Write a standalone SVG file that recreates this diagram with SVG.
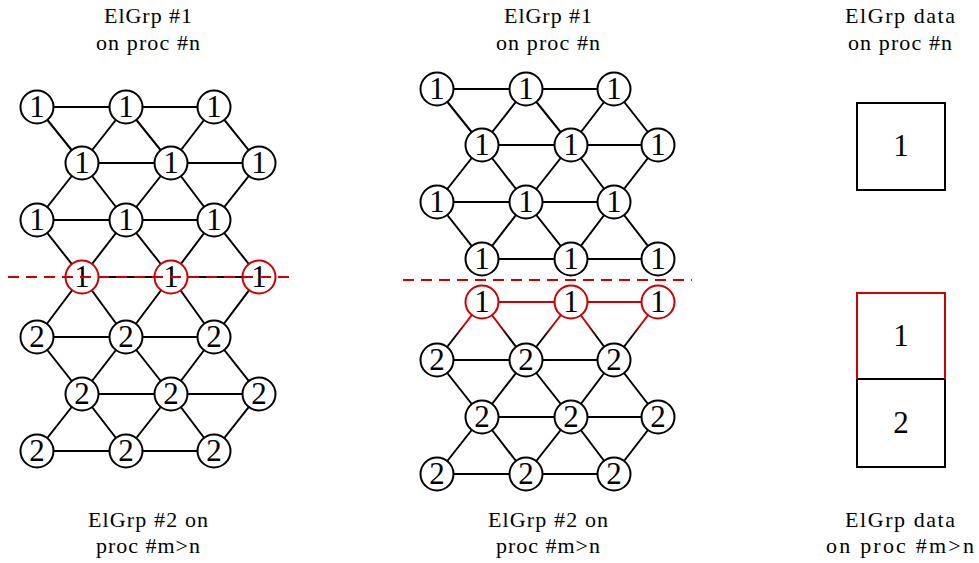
<svg xmlns="http://www.w3.org/2000/svg" width="979" height="563" viewBox="0 0 979 563">
<defs>
<linearGradient id="rb" x1="0" y1="0" x2="0" y2="1">
<stop offset="0.38" stop-color="#cc0000"/>
<stop offset="0.62" stop-color="#000"/>
</linearGradient>
<style>
.e{stroke:#000;stroke-width:2;fill:none}
.er{stroke:#cc0000;stroke-width:2;fill:none}
.eg{stroke:url(#rb);stroke-width:2;fill:none}
.n circle{fill:#fff;stroke:#000;stroke-width:2}
.r circle{fill:#fff;stroke:#cc0000;stroke-width:2}
.n text,.r text,.b text{font-family:"Liberation Serif",serif;font-size:31px;text-anchor:middle;fill:#000}
.b rect{fill:#fff;stroke:#000;stroke-width:2}
.lbl{font-family:"Liberation Serif",serif;font-size:22px;text-anchor:middle;fill:#000}
.dash{stroke:#cc0000;stroke-width:2;stroke-dasharray:11 7;fill:none}
</style>
</defs>
<rect width="979" height="563" fill="#fff"/>

<!-- labels -->
<g id="labels">
<text class="lbl" x="148" y="23" textLength="88" lengthAdjust="spacing">ElGrp #1</text>
<text class="lbl" x="148" y="50" textLength="104" lengthAdjust="spacing">on proc #n</text>
<text class="lbl" x="548" y="23" textLength="88" lengthAdjust="spacing">ElGrp #1</text>
<text class="lbl" x="548" y="50" textLength="104" lengthAdjust="spacing">on proc #n</text>
<text class="lbl" x="900" y="23" textLength="110" lengthAdjust="spacing">ElGrp data</text>
<text class="lbl" x="900" y="50" textLength="104" lengthAdjust="spacing">on proc #n</text>
<text class="lbl" x="148" y="527" textLength="120" lengthAdjust="spacing">ElGrp #2 on</text>
<text class="lbl" x="148" y="553" textLength="104" lengthAdjust="spacing">proc #m&gt;n</text>
<text class="lbl" x="548" y="527" textLength="120" lengthAdjust="spacing">ElGrp #2 on</text>
<text class="lbl" x="548" y="553" textLength="104" lengthAdjust="spacing">proc #m&gt;n</text>
<text class="lbl" x="900" y="527" textLength="110" lengthAdjust="spacing">ElGrp data</text>
<text class="lbl" x="900" y="553" textLength="148" lengthAdjust="spacing">on proc #m&gt;n</text>
</g>

<g id="connectors">
<!-- left mesh horizontals -->
<path class="e" d="M37 107H214M82 163H259M37 220H214M82 277H259M37 337H214M82 394H259M37 451H214"/>
<!-- left mesh diagonals -->
<path class="e" d="M37 107L82 163M126 107L82 163M126 107L171 163M214 107L171 163M214 107L259 163
M82 163L37 220M82 163L126 220M171 163L126 220M171 163L214 220M259 163L214 220
M37 220L82 277M126 220L82 277M126 220L171 277M214 220L171 277M214 220L259 277
M82 277L37 337M82 277L126 337M171 277L126 337M171 277L214 337M259 277L214 337
M37 337L82 394M126 337L82 394M126 337L171 394M214 337L171 394M214 337L259 394
M82 394L37 451M82 394L126 451M171 394L126 451M171 394L214 451M259 394L214 451"/>
<!-- middle mesh horizontals -->
<path class="e" d="M437 89H614M482 145H658M437 202H614M482 259H658M437 360H614M482 417H658M437 474H614"/>
<path class="er" d="M482 302H658"/>
<!-- middle mesh diagonals -->
<path class="e" d="M437 89L482 145M526 89L482 145M526 89L571 145M614 89L571 145M614 89L658 145
M482 145L437 202M482 145L526 202M571 145L526 202M571 145L614 202M658 145L614 202
M437 202L482 259M526 202L482 259M526 202L571 259M614 202L571 259M614 202L658 259
M437 360L482 417M526 360L482 417M526 360L571 417M614 360L571 417M614 360L658 417
M482 417L437 474M482 417L526 474M571 417L526 474M571 417L614 474M658 417L614 474"/>
<line class="eg" x1="482" y1="302" x2="437" y2="360"/>
<line class="eg" x1="482" y1="302" x2="526" y2="360"/>
<line class="eg" x1="571" y1="302" x2="526" y2="360"/>
<line class="eg" x1="571" y1="302" x2="614" y2="360"/>
<line class="eg" x1="658" y1="302" x2="614" y2="360"/>
</g>

<!-- left mesh nodes -->
<g id="L1a" class="n"><circle cx="37" cy="107" r="16.5"/><text x="37" y="117">1</text></g>
<g id="L1b" class="n"><circle cx="126" cy="107" r="16.5"/><text x="126" y="117">1</text></g>
<g id="L1c" class="n"><circle cx="214" cy="107" r="16.5"/><text x="214" y="117">1</text></g>
<g id="L2a" class="n"><circle cx="82" cy="163" r="16.5"/><text x="82" y="173">1</text></g>
<g id="L2b" class="n"><circle cx="171" cy="163" r="16.5"/><text x="171" y="173">1</text></g>
<g id="L2c" class="n"><circle cx="259" cy="163" r="16.5"/><text x="259" y="173">1</text></g>
<g id="L3a" class="n"><circle cx="37" cy="220" r="16.5"/><text x="37" y="230">1</text></g>
<g id="L3b" class="n"><circle cx="126" cy="220" r="16.5"/><text x="126" y="230">1</text></g>
<g id="L3c" class="n"><circle cx="214" cy="220" r="16.5"/><text x="214" y="230">1</text></g>
<g id="L4a" class="r"><circle cx="82" cy="277" r="16.5"/><text x="82" y="287">1</text></g>
<g id="L4b" class="r"><circle cx="171" cy="277" r="16.5"/><text x="171" y="287">1</text></g>
<g id="L4c" class="r"><circle cx="259" cy="277" r="16.5"/><text x="259" y="287">1</text></g>
<g id="L5a" class="n"><circle cx="37" cy="337" r="16.5"/><text x="37" y="347">2</text></g>
<g id="L5b" class="n"><circle cx="126" cy="337" r="16.5"/><text x="126" y="347">2</text></g>
<g id="L5c" class="n"><circle cx="214" cy="337" r="16.5"/><text x="214" y="347">2</text></g>
<g id="L6a" class="n"><circle cx="82" cy="394" r="16.5"/><text x="82" y="404">2</text></g>
<g id="L6b" class="n"><circle cx="171" cy="394" r="16.5"/><text x="171" y="404">2</text></g>
<g id="L6c" class="n"><circle cx="259" cy="394" r="16.5"/><text x="259" y="404">2</text></g>
<g id="L7a" class="n"><circle cx="37" cy="451" r="16.5"/><text x="37" y="461">2</text></g>
<g id="L7b" class="n"><circle cx="126" cy="451" r="16.5"/><text x="126" y="461">2</text></g>
<g id="L7c" class="n"><circle cx="214" cy="451" r="16.5"/><text x="214" y="461">2</text></g>

<!-- middle mesh nodes -->
<g id="M1a" class="n"><circle cx="437" cy="89" r="16.5"/><text x="437" y="99">1</text></g>
<g id="M1b" class="n"><circle cx="526" cy="89" r="16.5"/><text x="526" y="99">1</text></g>
<g id="M1c" class="n"><circle cx="614" cy="89" r="16.5"/><text x="614" y="99">1</text></g>
<g id="M2a" class="n"><circle cx="482" cy="145" r="16.5"/><text x="482" y="155">1</text></g>
<g id="M2b" class="n"><circle cx="571" cy="145" r="16.5"/><text x="571" y="155">1</text></g>
<g id="M2c" class="n"><circle cx="658" cy="145" r="16.5"/><text x="658" y="155">1</text></g>
<g id="M3a" class="n"><circle cx="437" cy="202" r="16.5"/><text x="437" y="212">1</text></g>
<g id="M3b" class="n"><circle cx="526" cy="202" r="16.5"/><text x="526" y="212">1</text></g>
<g id="M3c" class="n"><circle cx="614" cy="202" r="16.5"/><text x="614" y="212">1</text></g>
<g id="M4a" class="n"><circle cx="482" cy="259" r="16.5"/><text x="482" y="269">1</text></g>
<g id="M4b" class="n"><circle cx="571" cy="259" r="16.5"/><text x="571" y="269">1</text></g>
<g id="M4c" class="n"><circle cx="658" cy="259" r="16.5"/><text x="658" y="269">1</text></g>
<g id="M5a" class="r"><circle cx="482" cy="302" r="16.5"/><text x="482" y="312">1</text></g>
<g id="M5b" class="r"><circle cx="571" cy="302" r="16.5"/><text x="571" y="312">1</text></g>
<g id="M5c" class="r"><circle cx="658" cy="302" r="16.5"/><text x="658" y="312">1</text></g>
<g id="M6a" class="n"><circle cx="437" cy="360" r="16.5"/><text x="437" y="370">2</text></g>
<g id="M6b" class="n"><circle cx="526" cy="360" r="16.5"/><text x="526" y="370">2</text></g>
<g id="M6c" class="n"><circle cx="614" cy="360" r="16.5"/><text x="614" y="370">2</text></g>
<g id="M7a" class="n"><circle cx="482" cy="417" r="16.5"/><text x="482" y="427">2</text></g>
<g id="M7b" class="n"><circle cx="571" cy="417" r="16.5"/><text x="571" y="427">2</text></g>
<g id="M7c" class="n"><circle cx="658" cy="417" r="16.5"/><text x="658" y="427">2</text></g>
<g id="M8a" class="n"><circle cx="437" cy="474" r="16.5"/><text x="437" y="484">2</text></g>
<g id="M8b" class="n"><circle cx="526" cy="474" r="16.5"/><text x="526" y="484">2</text></g>
<g id="M8c" class="n"><circle cx="614" cy="474" r="16.5"/><text x="614" y="484">2</text></g>

<!-- data boxes -->
<g id="box1" class="b"><rect x="857" y="103" width="88" height="87"/><text x="901" y="156">1</text></g>
<g id="box3" class="b"><rect x="857" y="379" width="88" height="88"/><text x="901" y="433">2</text></g>
<g id="box2" class="b"><path d="M857 379V293H945V379" fill="none" stroke="#cc0000" stroke-width="2"/><text x="901" y="346">1</text></g>

<!-- separators -->
<g id="separators">
<line class="dash" x1="8" y1="277" x2="295" y2="277"/>
<line class="dash" x1="403" y1="280" x2="692" y2="280"/>
</g>
</svg>
